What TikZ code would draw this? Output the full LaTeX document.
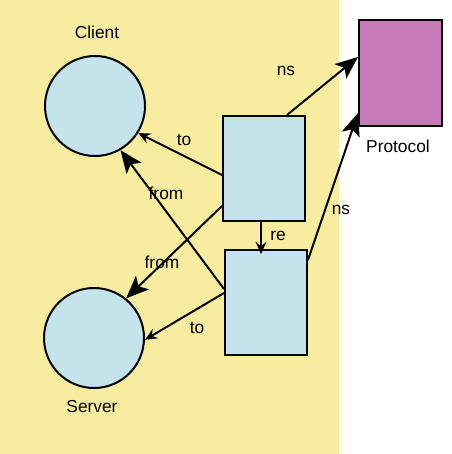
\documentclass[tikz,border=0pt]{standalone}
\usepackage{fontspec}
\setmainfont{Liberation Sans}
\usetikzlibrary{arrows.meta}
\definecolor{bgyellow}{HTML}{F8EC9F}
\definecolor{lblue}{HTML}{C4E3EA}
\definecolor{proto}{HTML}{C87BB9}
\begin{document}
\begin{tikzpicture}[x=0.75pt,y=-0.75pt,
  every node/.style={font=\fontsize{13pt}{15pt}\selectfont, inner sep=0pt},
  place/.style={circle, draw=black, line width=1.5pt, fill=lblue, minimum size=100*0.75pt},
  trans/.style={rectangle, draw=black, line width=1.5pt, fill=lblue, minimum width=82*0.75pt, minimum height=105*0.75pt},
  protobox/.style={rectangle, draw=black, line width=1.5pt, fill=proto, minimum width=83*0.75pt, minimum height=106*0.75pt},
  conn/.style={line width=1.5pt, draw=black},
  bighead/.style={conn, -{Stealth[length=17pt, width=14pt, inset=4pt]}},
  smallhead/.style={conn, -{Stealth[length=9pt, width=8pt, inset=3pt]}},
  lbl/.style={text=black}
]
\useasboundingbox (0,0) rectangle (452,454);
\fill[bgyellow] (0,0) rectangle (339,454);
\fill[white] (339,0) rectangle (452,454);

\node[place] (client) at (95,106) {};
\node[place] (server) at (94,338) {};
\node[trans] (b1) at (264,168.5) {};
\node[trans] (b2) at (266,302.5) {};
\node[protobox] (proto) at (400.5,73) {};

\node[lbl] (lclient) at (97,32) {Client};
\node[lbl] (lserver) at (92,407) {Server};
\node[lbl] (lproto) at (398,146) {Protocol};

\draw[smallhead] ([yshift=-6.5*0.75pt]b1.west) -- (client.-32);
\draw[bighead] ([yshift=13.5*0.75pt]b2.west) -- (client.-60);
\draw[bighead] ([yshift=-37.5*0.75pt]b1.west) -- (server.51);
\draw[smallhead] ([yshift=9.5*0.75pt]b2.west) -- (server.-2);
\draw[smallhead] ([xshift=-3*0.75pt]b1.south) -- ([xshift=-5*0.75pt,yshift=-5*0.75pt]b2.north);
\draw[bighead] ([xshift=23*0.75pt]b1.north) -- ([yshift=16*0.75pt]proto.west);
\draw[bighead] ([yshift=42.5*0.75pt]b2.east) -- ([yshift=-40*0.75pt]proto.west);

\node[lbl] (lto1) at (184,140) {to};
\node[lbl] (lfrom1) at (166,193) {from};
\node[lbl] (lfrom2) at (162,262) {from};
\node[lbl] (lto2) at (197,328) {to};
\node[lbl] (lre) at (278,236) {re};
\node[lbl] (lns1) at (286,71) {ns};
\node[lbl] (lns2) at (341,210) {ns};
\end{tikzpicture}
\end{document}
